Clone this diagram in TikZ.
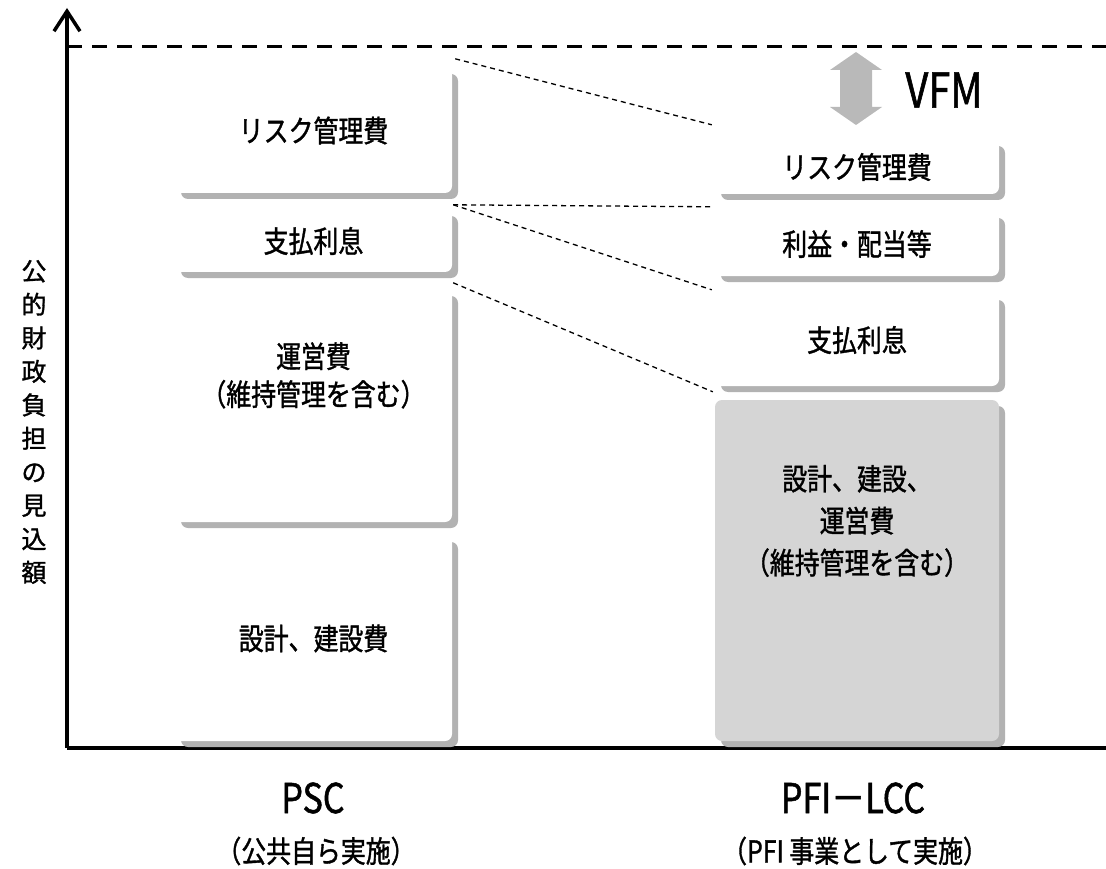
\documentclass[tikz,border=0pt]{standalone}
\usepackage{fontspec}
\setmainfont{Noto Sans CJK JP}[FakeStretch=0.83, FakeBold=1.2]
\newfontfamily\axisfont{Noto Sans CJK JP}[FakeBold=1.2]
\setlength{\lineskiplimit}{-100pt}
\usetikzlibrary{arrows.meta,shadows}

\begin{document}
\begin{tikzpicture}[
        x=1pt, y=-1pt,
        costbox/.style={
            rectangle,
            rounded corners=7pt,
            minimum width=277pt,
            align=center,
            inner sep=0pt,
            fill=white,
            font=\fontsize{30}{38}\selectfont,
            general shadow={fill=gray!60, shadow xshift=6pt, shadow yshift=-6pt}
        },
        pfibox/.style={costbox, minimum width=284pt},
        guide/.style={line width=1.3pt, dash pattern=on 5pt off 4pt},
        axis/.style={line width=3.5pt},
        caption/.style={font=\fontsize{30}{38}\selectfont},
        title/.style={font=\fontsize{41}{48}\selectfont}
    ]

    \useasboundingbox (0,0) rectangle (1106,869);

    % Axes
    \coordinate (origin) at (67,748);
    \coordinate (ytip) at (67,8);
    \coordinate (xend) at (1106,748);
    \coordinate (limit) at (67,47);
    \coordinate (limitend) at (1106,47);

    \draw[axis, -{Straight Barb[length=20pt,width=26pt]}] (origin) -- (ytip);
    \draw[axis] (origin) -- (xend);
    \draw[line width=3pt, dash pattern=on 15pt off 10pt] (limit) -- (limitend);

    % Nodes (PSC)
    \node (l1) [costbox, minimum height=125pt] at (313.5,130.5) {リスク管理費};

    \node (l2) [costbox, minimum height=62pt] at (313.5,241) {支払利息};

    \node (l3) [costbox, minimum height=232pt, text depth=64pt] at (313.5,406) {運営費\\（維持管理を含む）};

    \node (l4) [costbox, minimum height=205pt] at (313.5,638.5) {設計、建設費};

    % Nodes (PFI-LCC)
    \node (r1) [pfibox, minimum height=54pt] at (857,167) {リスク管理費};

    \node (r2) [pfibox, minimum height=64pt] at (857,244) {利益・配当等};

    \node (r3) [pfibox, minimum height=92pt] at (857,340) {支払利息};

    \node (r4) [pfibox, minimum height=341pt, fill=gray!33, text depth=102pt,
        font=\fontsize{30}{42}\selectfont] at (857,570.5) {設計、建設、\\運営費\\（維持管理を含む）};

    % VFM
    \fill[gray!55] (856,52) -- (882,70) -- (872,70) -- (872,107) -- (882,107) -- (856,125)
        -- (830,107) -- (840,107) -- (840,70) -- (830,70) -- cycle;
    \node (vfm) [font=\fontsize{48}{54}\selectfont] at (944,90) {VFM};

    % Labels
    \node (yname) [font=\axisfont\fontsize{25}{33.5}\selectfont, align=center] at (34,422)
        {公\\的\\財\\政\\負\\担\\の\\見\\込\\額};

    \node (psc) [title] at (313,798) {PSC};
    \node (pscnote) [caption] at (316,851) {（公共自ら実施）};

    \node (pfi) [title] at (853,798) {PFI－LCC};
    \node (pfinote) [caption] at (855,851) {（PFI 事業として実施）};

    % Guides
    \draw[guide] ([shift={(3,-9)}]l1.north east) -- ([shift={(-3,-15)}]r1.north west);
    \draw[guide] ([shift={(1,-5)}]l2.north east) -- ([shift={(-3,-5)}]r2.north west);
    \draw[guide] ([shift={(1,-5)}]l2.north east) -- ([shift={(-3,-4)}]r3.north west);
    \draw[guide] ([shift={(1,-7)}]l3.north east) -- ([shift={(-2,-8)}]r4.north west);

    \end{tikzpicture}
\end{document}
